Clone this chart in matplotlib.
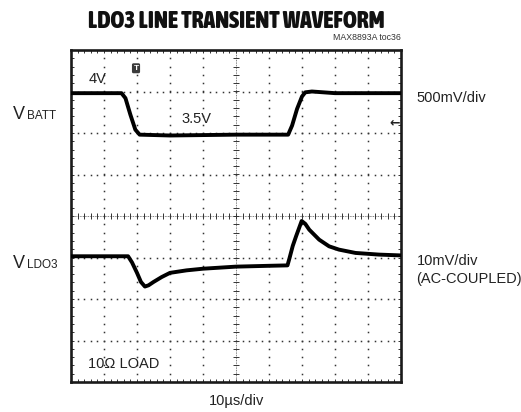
import numpy as np
import matplotlib
matplotlib.use("Agg")
import matplotlib.pyplot as plt
from matplotlib import font_manager as fm

# ---------------- data ----------------
# time axis: 10 us/div, 10 divisions
time_vbatt_us = [0, 15.3, 16.5, 18.0, 19.5, 20.8, 30, 50, 65.8, 67.0, 68.5, 70.0, 71.0, 73.0, 80, 100]
vbatt_V = [4.00, 4.00, 3.94, 3.74, 3.56, 3.50, 3.49, 3.50, 3.50, 3.61, 3.81, 3.96, 4.01, 4.02, 4.00, 4.00]

time_vldo3_us = [0, 10, 17.3, 18.5, 20.0, 21.2, 22.4, 23.5, 25.0, 27.5, 30, 35, 40, 50, 60, 65.6,
                 66.2, 67.2, 68.2, 69.9, 71.0, 72.2, 75.2, 78.2, 81.2, 86.2, 93.3, 100]
vldo3_mV = [0, 0, 0, -1.5, -4.0, -6.2, -7.3, -7.0, -6.2, -5.0, -4.0, -3.4, -3.0, -2.5, -2.3, -2.2,
            -0.5, 2.5, 4.8, 8.5, 7.8, 6.4, 4.0, 2.4, 1.6, 0.8, 0.4, 0.2]

# channel settings
vbatt_scale_V_per_div = 0.5
vldo3_scale_mV_per_div = 10.0
n_xdiv, n_ydiv = 10, 8
time_per_div_us = 10
trigger_time_us = 19.7

title = "LDO3 LINE TRANSIENT WAVEFORM"
fig_id = "MAX8893A toc36"

# ---------------- fonts ----------------
reg = ["Liberation Sans", "DejaVu Sans"]


def _w(f):
    w = f.weight
    if isinstance(w, str):
        w = fm.weight_dict.get(w, 400)
    return int(w)


def find_condensed(bold):
    best = None
    for f in fm.fontManager.ttflist:
        cond = ("Condensed" in f.name or "Narrow" in f.name or
                f.stretch in ("condensed", "semi-condensed", "extra-condensed"))
        if not cond or f.style != "normal":
            continue
        w = _w(f)
        if bold and w >= 700 or (not bold and 350 <= w <= 500):
            if best is None or (bold and w > _w(best)):
                best = f
    return fm.FontProperties(fname=best.fname) if best else None


cond_bold = find_condensed(True)

W, H = 521, 412
fig = plt.figure(figsize=(W / 100, H / 100), dpi=100)
fig.patch.set_facecolor("white")

L, R, T, B = 71, 401, 50, 382
pos = [L / W, 1 - B / H, (R - L) / W, (B - T) / H]

# grid axes (in divisions)
ax = fig.add_axes(pos)
ax.set_xlim(0, n_xdiv)
ax.set_ylim(0, n_ydiv)
for s in ax.spines.values():
    s.set_linewidth(1.9)
    s.set_color("#1a1a1a")
ax.set_xticks(np.arange(0, n_xdiv + 0.01, 1))
ax.set_yticks(np.arange(0, n_ydiv + 0.01, 1))
ax.set_xticks(np.arange(0, n_xdiv + 0.01, 0.2), minor=True)
ax.set_yticks(np.arange(0, n_ydiv + 0.01, 0.2), minor=True)
ax.tick_params(which="both", direction="in", length=2.5, width=0.7, color="#333333",
               top=True, right=True, labelbottom=False, labelleft=False)

# dotted graticule
dot_kw = dict(ls="", marker="s", ms=1.1, color="#333333", mew=0)
for xi in range(1, n_xdiv):
    if xi == n_xdiv // 2:
        continue
    ys = np.arange(0.2, n_ydiv, 0.2)
    ax.plot(np.full_like(ys, xi), ys, **dot_kw)
for yi in range(1, n_ydiv):
    if yi == n_ydiv // 2:
        continue
    xs = np.arange(0.2, n_xdiv, 0.2)
    ax.plot(xs, np.full_like(xs, yi), **dot_kw)
# centre axes with tick marks
ax.axhline(n_ydiv / 2, color="#555555", lw=0.6, ls=(0, (1, 1)))
ax.axvline(n_xdiv / 2, color="#555555", lw=0.6, ls=(0, (1, 1)))
xs = np.arange(0.2, n_xdiv, 0.2)
ax.plot(xs, np.full_like(xs, n_ydiv / 2), ls="", marker="|", ms=4, mew=0.7, color="#333333")
ys = np.arange(0.2, n_ydiv, 0.2)
ax.plot(np.full_like(ys, n_xdiv / 2), ys, ls="", marker="_", ms=4, mew=0.7, color="#333333")

# VBATT channel axes (500 mV/div, 4 V shown at ~7 div)
axb = fig.add_axes(pos, frameon=False)
vb_top = 4.52
axb.set_xlim(0, n_xdiv * time_per_div_us)
axb.set_ylim(vb_top - n_ydiv * vbatt_scale_V_per_div, vb_top)
axb.axis("off")
axb.plot(time_vbatt_us, vbatt_V, color="black", lw=2.8, solid_joinstyle="round")

# VLDO3 channel axes (10 mV/div, AC coupled, 0 at ~3 div)
axl = fig.add_axes(pos, frameon=False)
vl_bottom = -30.3
axl.set_xlim(0, n_xdiv * time_per_div_us)
axl.set_ylim(vl_bottom, vl_bottom + n_ydiv * vldo3_scale_mV_per_div)
axl.axis("off")
axl.plot(time_vldo3_us, vldo3_mV, color="black", lw=2.8, solid_joinstyle="round")

# trigger marker and ground marker
axb.text(trigger_time_us, vb_top - 0.22, "T", ha="center", va="center", fontsize=6,
         fontweight="bold", color="white", family=reg,
         bbox=dict(boxstyle="round,pad=0.18", fc="#3a3a3a", ec="none"))
ax.text(9.97, 6.25, "←", ha="right", va="center", fontsize=9, fontweight="bold",
        family=["DejaVu Sans"], color="#222222")

renderer = fig.canvas.get_renderer()


def ftext(x, y, s, target_w=None, **kw):
    if "fontproperties" not in kw:
        kw.setdefault("family", reg)
        kw.setdefault("fontsize", 10.5)
    kw.setdefault("va", "baseline")
    kw.setdefault("color", "#222222")
    t = fig.text(x / W, 1 - y / H, s, **kw)
    if target_w:
        w = t.get_window_extent(renderer).width
        t.set_fontsize(t.get_fontsize() * target_w / w)
    return t


if cond_bold is not None:
    ftext(236.5, 28.3, title, target_w=297, ha="center", fontproperties=cond_bold, color="#111111")
else:
    ftext(236.5, 28.3, title, target_w=297, ha="center", fontsize=13, fontweight="bold",
          color="#111111")
ftext(401, 39.5, fig_id, ha="right", fontsize=6.3, color="#333333")

ftext(13.3, 119, "V", fontsize=13)
ftext(13.3, 268, "V", fontsize=13)
ftext(26.7, 119, "BATT", fontsize=8.5)
ftext(26.7, 268, "LDO3", fontsize=8.5)

ftext(416.5, 102, "500mV/div")
ftext(416.5, 265, "10mV/div")
ftext(416.5, 283, "(AC-COUPLED)")
ftext(237, 405, "10µs/div", ha="center")

ftext(89, 83.3, "4V")
ftext(181.5, 123.3, "3.5V")
ftext(88.5, 368.3, "10Ω LOAD")

fig.savefig("out.png", dpi=100, facecolor="white")
